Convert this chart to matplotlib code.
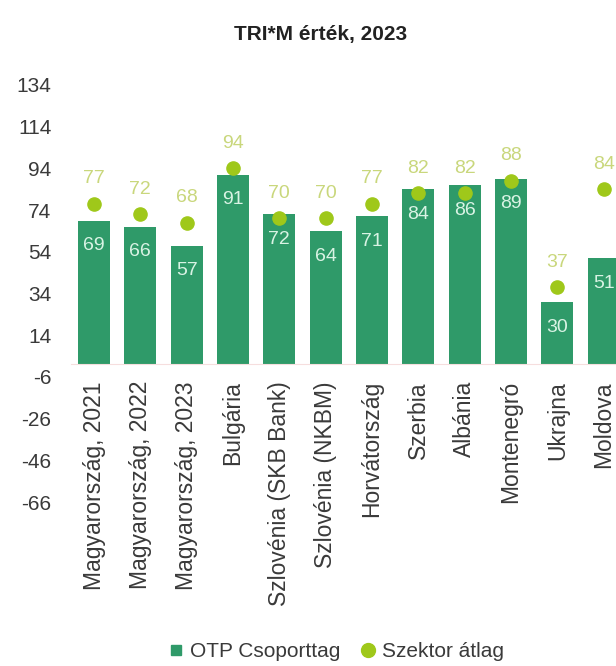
import matplotlib
matplotlib.use("Agg")
import matplotlib.pyplot as plt
from matplotlib.lines import Line2D

plt.rcParams['font.family'] = ['Liberation Sans', 'DejaVu Sans']
plt.rcParams['axes.unicode_minus'] = False

# adatok
categories = ['Magyarország, 2021', 'Magyarország, 2022', 'Magyarország, 2023',
              'Bulgária', 'Szlovénia (SKB Bank)', 'Szlovénia (NKBM)', 'Horvátország',
              'Szerbia', 'Albánia', 'Montenegró', 'Ukrajna', 'Moldova']
otp_values = [69, 66, 57, 91, 72, 64, 71, 84, 86, 89, 30, 51]
sector_avg = [77, 72, 68, 94, 70, 70, 77, 82, 82, 88, 37, 84]
y_ticks = [-66, -46, -26, -6, 14, 34, 54, 74, 94, 114, 134]

bar_color = '#2f9a69'
dot_color = '#9fc81a'
dot_label_color = '#c9d77c'
bar_label_color = '#d9f3e4'
text_color = '#3a3a3a'

fig = plt.figure(figsize=(6.16, 6.66), dpi=100)
# a diagram jobb széle kilóg a képből, mint az eredetin
ax = fig.add_axes([0.115, 0.2462, 0.9026, 0.6262])

# a kategória-tengely a 0-nál metszi az y tengelyt
for side in ['top', 'right', 'left']:
    ax.spines[side].set_visible(False)
ax.spines['bottom'].set_position(('data', 0))
ax.spines['bottom'].set_color('#f6dede')

x = range(len(categories))
ax.bar(x, otp_values, width=0.69, color=bar_color, zorder=2)
ax.scatter(x, sector_avg, s=90, color=dot_color, zorder=3)

for xi, v in zip(x, otp_values):
    ax.annotate(str(v), (xi, v), xytext=(0, -12), textcoords='offset points',
                ha='center', va='top', fontsize=14, color=bar_label_color, zorder=4)
for xi, v in zip(x, sector_avg):
    ax.annotate(str(v), (xi, v), xytext=(0, 12), textcoords='offset points',
                ha='center', va='bottom', fontsize=14, color=dot_label_color, zorder=4)

ax.set_xlim(-0.5, len(categories) - 0.5)
ax.set_ylim(-66, 134)
ax.set_yticks(y_ticks)
ax.set_xticks(list(x))
ax.set_xticklabels(categories)

ax.tick_params(axis='both', length=0, colors=text_color)
ax.tick_params(axis='y', pad=14, labelsize=15)
ax.tick_params(axis='x', pad=12, labelrotation=90, labelsize=16.5)

fig.text(0.52, 0.948, 'TRI*M érték, 2023', ha='center', va='center',
         fontsize=15, fontweight='bold', color='#222222')

handles = [Line2D([], [], marker='s', linestyle='', color=bar_color, markersize=7),
           Line2D([], [], marker='o', linestyle='', color=dot_color, markersize=10)]
fig.legend(handles, ['OTP Csoporttag', 'Szektor átlag'], loc='center',
           bbox_to_anchor=(0.545, 0.022), ncol=2, frameon=False, fontsize=15,
           handlelength=0.8, handletextpad=0.3, columnspacing=0.9,
           labelcolor=text_color)

fig.savefig('out.png', dpi=100)
